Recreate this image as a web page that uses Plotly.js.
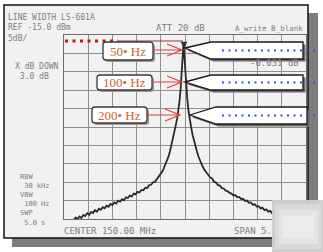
<!DOCTYPE html>
<html><head><meta charset="utf-8">
<script src="https://cdn.plot.ly/plotly-3.0.1.min.js"></script>
<style>html,body{margin:0;padding:0;background:#fff}#chart{width:323px;height:252px}</style>
</head><body><div id="chart"></div>
<script>
// ---- data ----
const freqMHz = [147.70,147.74,147.78,147.82,147.86,147.90,147.94,147.98,148.02,148.06,148.10,148.14,148.18,148.22,148.26,148.30,148.34,148.38,148.42,148.46,148.50,148.54,148.58,148.62,148.66,148.70,148.74,148.78,148.82,148.86,148.90,148.94,148.98,149.02,149.06,149.10,149.14,149.18,149.22,149.26,149.30,149.34,149.38,149.42,149.46,149.50,149.54,149.58,149.62,149.66,149.69,149.72,149.75,149.78,149.81,149.84,149.87,149.89,149.91,149.93,149.95,149.96,149.97,149.98,149.99,150.01,150.03,150.05,150.07,150.10,150.13,150.16,150.19,150.22,150.25,150.28,150.32,150.36,150.40,150.44,150.48,150.52,150.56,150.60,150.64,150.68,150.72,150.76,150.80,150.84,150.88,150.92,150.96,151.00,151.04,151.08,151.12,151.16,151.20,151.24,151.28,151.32,151.36,151.40,151.44,151.48,151.52,151.56,151.60,151.64,151.68,151.72,151.76,151.80,151.84,151.88,151.92,151.96,152.00,152.04,152.08,152.12,152.16,152.20,152.24,152.28,152.32,152.36,152.40,152.44,152.48];
const levelDbm = [-65.3,-64.6,-65.0,-64.3,-64.7,-63.9,-64.2,-63.4,-63.9,-63.1,-63.4,-62.6,-63.0,-62.2,-62.5,-61.8,-62.1,-61.4,-61.7,-60.9,-61.2,-60.5,-60.8,-60.0,-60.3,-59.6,-59.9,-59.1,-59.3,-58.6,-58.9,-58.1,-58.3,-57.6,-57.8,-57.1,-57.2,-56.5,-56.6,-55.8,-55.7,-55.0,-54.9,-54.1,-53.6,-52.8,-51.9,-50.6,-49.4,-48.0,-46.6,-45.0,-43.3,-41.4,-39.5,-37.6,-35.2,-32.6,-29.6,-25.8,-21.6,-19.2,-17.0,-19.4,-21.8,-26.0,-29.8,-32.8,-35.4,-38.2,-40.3,-42.3,-44.0,-45.6,-46.8,-48.1,-49.6,-50.6,-51.6,-52.3,-52.9,-53.7,-54.0,-54.9,-55.1,-55.8,-55.9,-56.6,-56.7,-57.3,-57.4,-57.9,-58.1,-58.6,-58.5,-59.1,-59.0,-59.6,-59.5,-60.1,-60.0,-60.6,-60.5,-61.1,-61.0,-61.6,-61.5,-62.1,-61.9,-62.6,-62.4,-63.0,-62.8,-63.4,-63.2,-63.8,-63.5,-64.1,-63.9,-64.5,-64.3,-64.9,-64.6,-65.2,-65.0,-65.5,-65.3,-65.8,-65.6,-66.0,-65.9];
const freqRange = [147.5, 152.5];   // CENTER 150.00 MHz, 10 divisions
const levelRange = [-65, -15];      // REF -15.0 dBm, 5 dB/div
const linewidthLabels = ['50• Hz', '100• Hz', '200• Hz'];
const headerLines = ['LINE WIDTH LS-601A', 'REF -15.0 dBm', '5dB/'];
const xdbLines = ['X dB DOWN', ' 3.0 dB'];
const bottomLeftLines = ['RBW', ' 30 kHz', 'VBW', ' 100 Hz', 'SWP', ' 5.0 s'];
const attText = 'ATT 20 dB';
const traceModeText = 'A_write B_blank';
const markerText = '-0.031 dB';
const centerText = 'CENTER 150.00 MHz';
const spanText = 'SPAN 5.';

// ---- layout helpers (pixel -> paper) ----
const W = 323, H = 252;
const X = p => p / W, Y = p => 1 - p / H;
function P(pts){ return pts.map((q,i)=> (i?'L':'M') + X(q[0]).toFixed(5) + ',' + Y(q[1]).toFixed(5)).join(' '); }
function rr(x0,y0,x1,y1,r){
  const f=(a,b)=>X(a).toFixed(5)+','+Y(b).toFixed(5);
  return 'M'+f(x0+r,y0)+' L'+f(x1-r,y0)+' Q'+f(x1,y0)+' '+f(x1,y0+r)+' L'+f(x1,y1-r)+' Q'+f(x1,y1)+' '+f(x1-r,y1)+
    ' L'+f(x0+r,y1)+' Q'+f(x0,y1)+' '+f(x0,y1-r)+' L'+f(x0,y0+r)+' Q'+f(x0,y0)+' '+f(x0+r,y0)+' Z';
}
const shapes = [];
const ann = [];
function rect(x0,y0,x1,y1,fill,line,lw,layer){
  shapes.push({type:'rect',xref:'paper',yref:'paper',x0:X(x0),x1:X(x1),y0:Y(y1),y1:Y(y0),
    fillcolor:fill,line:{color:line||'rgba(0,0,0,0)',width:lw||0},layer:layer||'above'});
}
function path(d,fill,line,lw,layer,dash){
  shapes.push({type:'path',xref:'paper',yref:'paper',path:d,fillcolor:fill||'rgba(0,0,0,0)',
    line:{color:line||'rgba(0,0,0,0)',width:lw||0,dash:dash||'solid'},layer:layer||'above'});
}
const grey = '#808080';
const mono = s => ({family:'DejaVu Sans Mono', size:s, color:grey});
function txt(t,x,y,anchor,font,ya){
  ann.push({xref:'paper',yref:'paper',x:X(x),y:Y(y),text:t,showarrow:false,xanchor:anchor||'left',yanchor:ya||'middle',
    align:'left',borderpad:0,font:font||mono(9)});
}
const block = lines => lines.map(s=>s.replace(/ /g,'&nbsp;')).join('<br>');

// frame + shadow
rect(12,13,318,247,'#7d7d7d',null,0,'below');
rect(4,5,308,238,'#f1f1f1','#111',1.5,'below');

// analyzer texts
txt(block(headerLines),7,12,'left',mono(8),'top');
txt(block(xdbLines),14,61,'left',mono(8),'top');
txt(block(bottomLeftLines),19,172,'left',mono(7),'top');
txt(attText,155,28);
txt(traceModeText,304,28,'right',mono(7.5));
txt(markerText,300,63,'right');
txt(centerText,63,231);
txt(spanText,233,231);

// reference level display line
path(P([[65,41],[118,41]]),null,'#cc1515',3,'above','3px,4.5px');
path(P([[118,41],[183,41]]),null,'#a03030',1,'above');
path(P([[181,42],[187,42],[184,47.5]])+' Z','#333','#333',0.5);

// red label boxes with arrows
const boxes = [
  {x0:103,y0:42,x1:153,y1:60,ay:50,tip:182},
  {x0:97,y0:75,x1:152,y1:90,ay:82,tip:182},
  {x0:92,y0:107,x1:147,y1:123,ay:115,tip:180}
];
boxes.forEach((b,i)=>{
  path(rr(b.x0+2,b.y0+2,b.x1+2,b.y1+2,3),'#9a9a9a',null,0);
  path(rr(b.x0,b.y0,b.x1,b.y1,3),'#ffffff','#3a3a3a',1.3);
  path(P([[b.x1,b.ay],[b.tip,b.ay]])+' '+P([[b.tip-15,b.ay-6],[b.tip,b.ay],[b.tip-15,b.ay+6]]),null,'#e0403a',1.2);
  ann.push({xref:'paper',yref:'paper',x:X((b.x0+b.x1)/2),y:Y((b.y0+b.y1)/2+0.5),text:linewidthLabels[i],showarrow:false,
    xanchor:'center',yanchor:'middle',borderpad:0,font:{family:'Liberation Serif',size:13,color:'#d0622a'}});
});

// white pointer callouts with blue dotted lines
const calls = [
  {tx:185,ty:48,bx:211,y0:42,y1:59,x1:303},
  {tx:185,ty:82,bx:211,y0:75,y1:90,x1:303},
  {tx:190,ty:115,bx:216,y0:107,y1:124,x1:307}
];
calls.forEach(c=>{
  const poly = q=>P([[c.tx+q,c.ty+q],[c.bx+q,c.y0+q],[c.x1+q,c.y0+q],[c.x1+q,c.y1+q],[c.bx+q,c.y1+q]])+' Z';
  path(poly(2.5),'#6a6a6a',null,0);
  path(poly(0),'#ffffff','#1a1a1a',1.3);
  path(P([[222,(c.y0+c.y1)/2],[316,(c.y0+c.y1)/2]]),null,'#3050e0',2.2,'above','2px,4.5px');
});

// blurred corner patch
rect(272,200,323,252,'rgba(205,205,205,0.97)');
rect(275,204,321,249,'rgba(218,218,218,0.9)');
rect(279,210,318,244,'rgba(228,228,228,0.9)');
rect(283,216,314,238,'rgba(236,236,236,0.9)');

const trace = {x:freqMHz,y:levelDbm,type:'scatter',mode:'lines',line:{color:'#2a2a2a',width:1.8},hoverinfo:'skip',cliponaxis:true};

const layout = {
  width:W,height:H,margin:{l:0,r:0,t:0,b:0},
  paper_bgcolor:'#ffffff',plot_bgcolor:'rgba(0,0,0,0)',showlegend:false,
  xaxis:{domain:[X(64),X(306)],range:freqRange,dtick:0.5,tick0:147.5,showgrid:true,gridcolor:'#8e8e8e',gridwidth:1,
    zeroline:false,showticklabels:false,ticks:'',showline:true,mirror:true,linecolor:'#6e6e6e',linewidth:1,fixedrange:true},
  yaxis:{domain:[Y(219),Y(35)],range:levelRange,dtick:5,tick0:-65,showgrid:true,gridcolor:'#8e8e8e',gridwidth:1,
    zeroline:false,showticklabels:false,ticks:'',showline:true,mirror:true,linecolor:'#6e6e6e',linewidth:1,fixedrange:true},
  shapes:shapes,annotations:ann
};
Plotly.newPlot('chart',[trace],layout,{staticPlot:true,displayModeBar:false});
</script></body></html>
